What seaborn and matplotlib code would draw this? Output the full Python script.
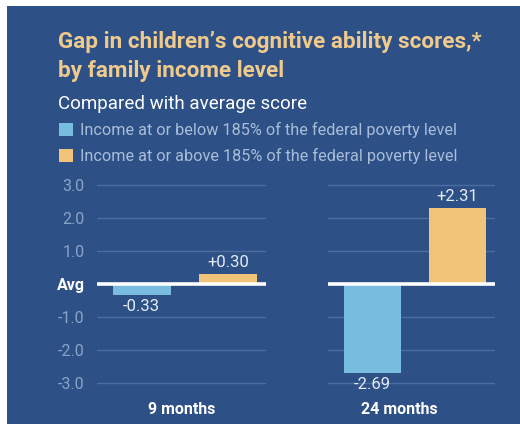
import matplotlib
matplotlib.use("Agg")
import matplotlib.pyplot as plt
from matplotlib.patches import Rectangle, Patch
import seaborn as sns
import pandas as pd

# ---- data ----
groups = ["9 months", "24 months"]
series = ["Income at or below 185% of the federal poverty level",
          "Income at or above 185% of the federal poverty level"]
below_values = [-0.33, -2.69]
above_values = [0.30, 2.31]
ytick_values = [3, 2, 1, 0, -1, -2, -3]
ytick_labels = ["3.0", "2.0", "1.0", "Avg", "-1.0", "-2.0", "-3.0"]
title_lines = ["Gap in children\u2019s cognitive ability scores,*", "by family income level"]
subtitle = "Compared with average score"

# ---- style ----
BG = "#2D5186"
BLUE = "#78BCE0"
ORANGE = "#F2C47A"
TITLE_C = "#EFCA8C"
GRID_C = "#4A6DA2"
TICK_C = "#8AA3C8"
LEG_C = "#A9BDD9"
VAL_C = "#E4EBF3"

sns.set_theme(style="white")
plt.rcParams["font.family"] = ["Roboto", "DejaVu Sans"]

df = pd.DataFrame({
    "group": [g for g in groups for _ in series],
    "income": [s for _ in groups for s in series],
    "value": [v for pair in zip(below_values, above_values) for v in pair],
})

W, H = 520, 424
fig = plt.figure(figsize=(W / 100, H / 100), dpi=100)
fig.patch.set_facecolor("white")
fig.patches.append(Rectangle((7 / W, 0), 1 - 7 / W, 1 - 6 / H, transform=fig.transFigure,
                             facecolor=BG, edgecolor="none", zorder=-10))

ylo, yhi = -3.1, 3.1
ppu = 33.0
ax_h = (yhi - ylo) * ppu
ax_bottom_px = 284 + (-ylo) * ppu  # pixel y from top of bottom edge
ax_rects = [(97, 266), (328, 495)]
label_x = [0.5, 0.425]

axes = []
for i, g in enumerate(groups):
    x0, x1 = ax_rects[i]
    ax = fig.add_axes([x0 / W, 1 - ax_bottom_px / H, (x1 - x0) / W, ax_h / H])
    ax.set_facecolor("none")
    ax.patch.set_alpha(0)
    sub = df[df["group"] == g]
    sns.barplot(data=sub, x="group", y="value", hue="income", hue_order=series,
                palette=[BLUE, ORANGE], width=1.02, gap=0.33, saturation=1,
                legend=False, ax=ax, zorder=2, linewidth=0, edgecolor="none")
    ax.set_ylim(ylo, yhi)
    ax.set_xlim(-0.52, 0.48)
    ax.set_yticks(ytick_values)
    ax.grid(axis="y", color=GRID_C, lw=1.0, zorder=0)
    ax.set_axisbelow(True)
    ax.axhline(0, color="white", lw=2.6, zorder=3)
    for sp in ax.spines.values():
        sp.set_visible(False)
    ax.set_xticks([])
    ax.set_xlabel("")
    ax.set_ylabel("")
    ax.tick_params(axis="y", length=0, pad=9)
    if i == 0:
        ax.set_yticklabels(ytick_labels, color=TICK_C, fontsize=11.5)
        for t in ax.get_yticklabels():
            if t.get_text() == "Avg":
                t.set_color("white")
                t.set_fontweight("bold")
    else:
        ax.set_yticklabels([])
    for c, vals in zip(ax.containers, [[below_values[i]], [above_values[i]]]):
        labs = [("+%.2f" % v) if v > 0 else ("%.2f" % v) for v in vals]
        ax.bar_label(c, labels=labs, padding=3, color=VAL_C, fontsize=12)
    ax.text(label_x[i], -0.111, g, transform=ax.transAxes, ha="center", va="center",
            color="white", fontsize=11.5, fontweight="bold")
    axes.append(ax)

# ---- titles ----
fig.text(58 / W, 1 - 48 / H, title_lines[0], color=TITLE_C, fontsize=16.2,
         fontweight="bold", ha="left", va="baseline")
fig.text(58 / W, 1 - 77 / H, title_lines[1], color=TITLE_C, fontsize=16.2,
         fontweight="bold", ha="left", va="baseline")
fig.text(58 / W, 1 - 109 / H, subtitle, color="white", fontsize=13.5,
         ha="left", va="baseline")

handles = [Patch(facecolor=BLUE, edgecolor="none"), Patch(facecolor=ORANGE, edgecolor="none")]
leg = fig.legend(handles, series, loc="upper left", bbox_to_anchor=(59 / W, 1 - 122 / H),
                 frameon=False, fontsize=11.7, handlelength=0.85, handleheight=0.85,
                 handletextpad=0.45, labelspacing=0.6, borderpad=0, borderaxespad=0)
for t in leg.get_texts():
    t.set_color(LEG_C)

fig.savefig("out.png", dpi=100, facecolor=fig.get_facecolor())
